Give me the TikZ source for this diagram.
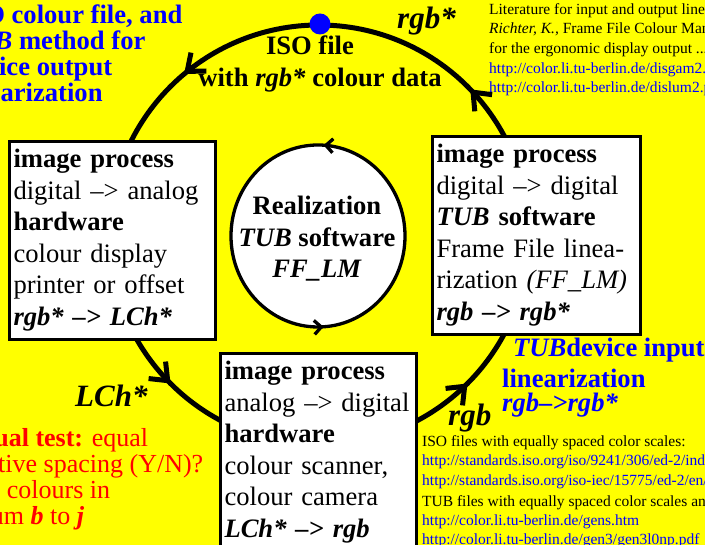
\documentclass[tikz,border=0pt]{standalone}
\usepackage{fontspec}
\setmainfont{Liberation Serif}
\usetikzlibrary{arrows.meta,decorations.markings}
\definecolor{PageYellow}{RGB}{255,255,0}
\definecolor{LinkBlue}{RGB}{0,0,255}
\definecolor{TestRed}{RGB}{255,0,0}
\newcommand{\boxfont}{\fontsize{26.6}{31.5}\selectfont}
\newcommand{\notefont}{\fontsize{15.5}{19.7}\selectfont}
\newcommand{\tagfont}{\fontsize{31}{36}\selectfont\bfseries\itshape}

\begin{document}
\begin{tikzpicture}[x=1pt,y=1pt,
  procbox/.style={draw,line width=3pt,fill=white,anchor=north west,align=left,
    inner xsep=4pt,inner ysep=8pt,minimum height=197pt,font=\boxfont},
  tag/.style={font=\tagfont,anchor=base west,inner sep=0pt},
  bigcycle/.style={postaction={decorate},decoration={markings,
    mark=at position 0.122 with {\arrow{Straight Barb[length=15pt,width=24pt]}},
    mark=at position 0.361 with {\arrow{Straight Barb[length=15pt,width=24pt]}},
    mark=at position 0.625 with {\arrow{Straight Barb[length=15pt,width=24pt]}},
    mark=at position 0.875 with {\arrow{Straight Barb[length=15pt,width=24pt]}}}},
  smallcycle/.style={postaction={decorate},decoration={markings,
    mark=at position 0.24 with {\arrow{Straight Barb[length=7pt,width=14pt]}},
    mark=at position 0.76 with {\arrow{Straight Barb[length=7pt,width=14pt]}}}}]
  \useasboundingbox (0,0) rectangle (705,545);
  \clip (0,0) rectangle (705,545);
  \fill[PageYellow] (0,0) rectangle (705,545);

  % outer cycle with the ISO file on top
  \coordinate (O) at (319,310);
  \draw[line width=5pt,bigcycle] (O) circle[radius=210];
  \fill[LinkBlue] (320,521) circle[radius=10.5];
  \node[font=\boxfont\bfseries,align=center,anchor=base,inner sep=0pt] (isofile) at (320,458)
    {ISO file\hspace*{20pt}\\[0.5pt]with \textit{rgb*} colour data};

  % the three process boxes
  \node[procbox,text width=198pt] (outproc) at (8,405)
    {\textbf{image process}\\digital --> analog\\\textbf{hardware}\\colour display\\printer or offset\\\textbf{\textit{rgb* --> LCh*}}};
  \node[procbox,text width=200pt] (linproc) at (431,410)
    {\textbf{image process}\\digital --> digital\\\textbf{\textit{TUB} software}\\Frame File linea-\\rization \textit{(FF\_LM)}\\\textbf{\textit{rgb --> rgb*}}};
  \node[procbox,text width=188pt] (inproc) at (219,193)
    {\textbf{image process}\\\mbox{analog --> digital}\\\textbf{hardware}\\colour scanner,\\colour camera\\\textbf{\textit{LCh* --> rgb}}};

  % inner cycle
  \coordinate (C) at (318,309);
  \draw[line width=3.3pt,fill=white,smallcycle] (C) ellipse[x radius=87,y radius=91];
  \node[font=\boxfont\bfseries,align=center,anchor=base,inner sep=0pt] (realiz) at (317,267)
    {Realization\\\textit{TUB} software\\\textit{FF\_LM}};

  % labels on the cycle
  \node[tag] (rgbstar) at (397,516) {rgb*};
  \node[tag] (lchstar) at (75,138) {LCh*};
  \node[tag] (rgbin) at (448,119) {rgb};

  % notes
  \node[font=\fontsize{26.6}{26}\selectfont\bfseries,text=LinkBlue,align=left,anchor=base west,inner sep=0pt] (tubout) at (-41,443)
    {ISO colour file, and\\\textit{TUB} method for\\device output\\linearization};
  \node[font=\boxfont\bfseries,text=LinkBlue,align=left,anchor=base west,inner sep=0pt] (tubin) at (502,133)
    {\hspace*{11pt}\textit{TUB}device input\\[-0.5pt]linearization\\[-7.5pt]\textit{rgb-->rgb*}};
  \node[font=\fontsize{26}{26}\selectfont,text=TestRed,align=left,anchor=base west,inner sep=0pt] (vistest) at (-41,20)
    {\textbf{Visual test:} equal\\relative spacing (Y/N)?\\of 9 colours in\\datum \textbf{\textit{b}} to \textbf{\textit{j}}};
  \node[font=\notefont,align=left,anchor=base west,inner sep=0pt] (litout) at (489,452)
    {Literature for input and output linearization:\\\textit{Richter, K.,} Frame File Colour Management\\for the ergonomic display output ...\\
     \textcolor{LinkBlue}{http://color.li.tu-berlin.de/disgam2.pdf}\\\textcolor{LinkBlue}{http://color.li.tu-berlin.de/dislum2.pdf}};
  \node[font=\fontsize{15.5}{19.4}\selectfont,align=left,anchor=base west,inner sep=0pt] (litin) at (422,0)
    {ISO files with equally spaced color scales:\\\textcolor{LinkBlue}{http://standards.iso.org/iso/9241/306/ed-2/index.html}\\
     \textcolor{LinkBlue}{http://standards.iso.org/iso-iec/15775/ed-2/en/}\\[1.5pt]TUB files with equally spaced color scales and ...\\
     \textcolor{LinkBlue}{http://color.li.tu-berlin.de/gens.htm}\\\textcolor{LinkBlue}{http://color.li.tu-berlin.de/gen3/gen3l0np.pdf}};
\end{tikzpicture}
\end{document}
